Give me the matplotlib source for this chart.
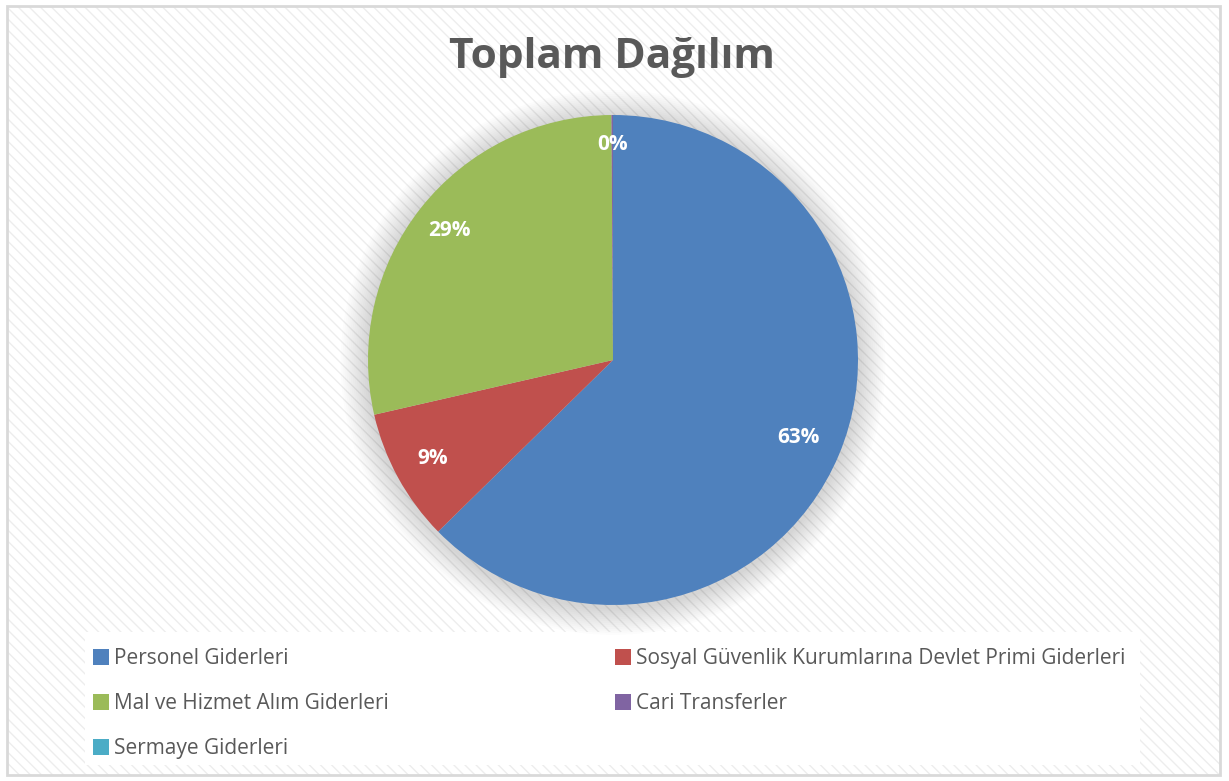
import numpy as np
import matplotlib.pyplot as plt
from matplotlib.patches import Rectangle, Circle, Patch

categories = ["Personel Giderleri",
              "Sosyal Güvenlik Kurumlarına Devlet Primi Giderleri",
              "Mal ve Hizmet Alım Giderleri",
              "Cari Transferler",
              "Sermaye Giderleri"]
values = [62.9, 8.8, 28.6, 0.1, 0.0]
colors = ["#4F81BD", "#C0504D", "#9BBB59", "#8064A2", "#4BACC6"]

W, H = 1229, 781
plt.rcParams['font.family'] = ['Open Sans', 'DejaVu Sans']
fig = plt.figure(figsize=(W / 100, H / 100), dpi=100)
fig.patch.set_facecolor("white")

# background: light diagonal stripes + gray frame
bg = Rectangle((7 / W, 6 / H), 1213 / W, 769 / H, transform=fig.transFigure,
               facecolor="white", edgecolor="#EDEDED", hatch="\\\\\\", lw=0,
               zorder=0)
fig.patches.append(bg)
frame = Rectangle((7 / W, 6 / H), 1213 / W, 769 / H, transform=fig.transFigure,
                  facecolor="none", edgecolor="#D9D9D9", lw=2, zorder=0)
fig.patches.append(frame)
# legend area white
fig.patches.append(Rectangle((85 / W, (H - 765) / H), 1055 / W, 133 / H,
                             transform=fig.transFigure, facecolor="white",
                             edgecolor="none", zorder=0))

fig.text(612 / W, 1 - 57 / H, "Toplam Dağılım", ha="center", va="center",
         fontsize=30.5, fontweight="bold", color="#595959")

cx, cy, r = 613, 360, 245
ax = fig.add_axes([(cx - r) / W, (H - cy - r) / H, 2 * r / W, 2 * r / H])
ax.set_zorder(2)
ax.patch.set_visible(False)
ax.axis("off")

# soft shadow around the pie
for i in range(14):
    ax.add_patch(Circle((0, -0.01), 1.0 + 0.008 * (14 - i), color="black",
                        alpha=0.012, lw=0, clip_on=False, zorder=0))

wedges, _ = ax.pie(values, colors=colors, startangle=90, counterclock=False,
                   radius=1.0, wedgeprops=dict(linewidth=0))
for w in wedges:
    w.set_zorder(2)
ax.set_xlim(-1, 1)
ax.set_ylim(-1, 1)

total = sum(values)
start = 90.0
dists = [0.82, 0.84, 0.85, 0.88, 0.88]
for v, d in zip(values, dists):
    span = 360.0 * v / total
    mid = np.deg2rad(start - span / 2)
    start -= span
    if v == 0:
        continue
    ax.text(d * np.cos(mid), d * np.sin(mid), "{:.0f}%".format(v),
            ha="center", va="center", fontsize=15, fontweight="bold",
            color="white", zorder=3)

order = [0, 2, 4, 1, 3]
handles = [Patch(facecolor=colors[i], label=categories[i]) for i in order]
leg = fig.legend(handles=handles, ncol=2, loc="upper left",
                 bbox_to_anchor=(85 / W, 1 - 640 / H), frameon=False,
                 fontsize=15, labelcolor="#595959", handlelength=0.75,
                 handleheight=0.75, handletextpad=0.25, labelspacing=1.15,
                 columnspacing=10.85, borderaxespad=0)
leg.set_zorder(5)

fig.savefig("out.png", dpi=100)
